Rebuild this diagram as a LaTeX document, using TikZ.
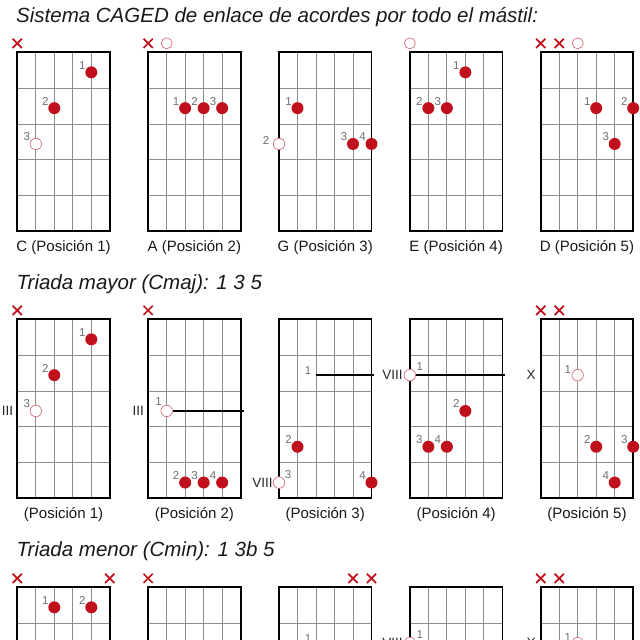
\documentclass[tikz,border=0pt]{standalone}
\usepackage{fontspec}
\setmainfont{Liberation Sans}
\usepackage{tikz}
\usetikzlibrary{shapes.misc}

\definecolor{dotred}{HTML}{C0101C}
\definecolor{ringred}{HTML}{D5707C}
\definecolor{numgray}{HTML}{6E6E6E}

\newcommand{\fingerdot}[4]{%
  \node[fdot] (#1) at (#2-1,#3-.44) {};
  \node[fnum] (#1n) at ([shift={(-9pt,7pt)}]#1.center) {#4};}
\newcommand{\ringdot}[5]{%
  \node[rdot] (#1) at (#2-1,#3-.44) {};
  \node[fnum] (#1n) at ([shift={#5}]#1.center) {#4};}

\begin{document}
\begin{tikzpicture}[x=1pt,y=-1pt,
  frame/.style={line width=1.7pt},
  wire/.style={black!45, line width=0.8pt},
  fdot/.style={circle, fill=dotred, minimum size=12pt, inner sep=0pt},
  rdot/.style={circle, draw=ringred, fill=white, line width=0.7pt, minimum size=11.5pt, inner sep=0pt},
  otop/.style={circle, draw=ringred, line width=0.7pt, minimum size=11pt, inner sep=0pt},
  mute/.style={cross out, draw=dotred, line width=1.7pt, minimum size=7.5pt, inner sep=0pt},
  fnum/.style={text=numgray, font=\fontsize{11.5}{11.5}\selectfont, inner sep=0pt},
  roman/.style={text=black!85, font=\fontsize{13.5}{13.5}\selectfont, inner sep=0pt, anchor=east},
  barre/.style={line width=1.4pt},
  heading/.style={text=black!90, font=\itshape\fontsize{20.5}{24}\selectfont, inner sep=0pt, anchor=base west},
  caption/.style={text=black!90, font=\fontsize{15}{18}\selectfont, inner sep=0pt, anchor=base},
  chord/.style 2 args={shift={({17.3pt+130.85pt*(#1-1)},{-#2pt})}, x=18.5pt, y=-35.8pt}]
\useasboundingbox (0,0) rectangle (640,640);
\clip (0,0) rectangle (640,640);

\node[heading] (head1) at (16,22.5) {Sistema CAGED de enlace de acordes por todo el mástil:};
\node[heading] (head2) at (16.5,289.3) {Triada mayor (Cmaj): 1 3 5};
\node[heading] (head3) at (16.5,556.7) {Triada menor (Cmin): 1 3b 5};

% fretboards
\foreach \row in {52.3,319.3,587.3}
  \foreach \col in {1,...,5} {
    \begin{scope}[chord={\col}{\row}]
      \foreach \s in {1,...,4} \draw[wire] (\s,0) -- (\s,5);
      \foreach \f in {1,...,4} \draw[wire] (0,\f) -- (5,\f);
      \draw[frame] (0,0) rectangle (5,5);
    \end{scope}
  }

\foreach \col/\txt in {1/C (Posición 1),2/A (Posición 2),3/G (Posición 3),4/E (Posición 4),5/D (Posición 5)} {
  \begin{scope}[chord={\col}{52.3}]
    \node[caption] (capA\col) at ([yshift=-20.5pt]2.5,5) {\txt};
  \end{scope}
}
\foreach \col in {1,...,5} {
  \begin{scope}[chord={\col}{319.3}]
    \node[caption] (capB\col) at ([yshift=-20.5pt]2.5,5) {(Posición \col)};
  \end{scope}
}

% CAGED
\begin{scope}[chord={1}{52.3}]
  \node[mute] (c1x1) at (0,-.25) {};
  \fingerdot{c1d1}{5}{1}{1}
  \fingerdot{c1d2}{3}{2}{2}
  \ringdot{c1d3}{2}{3}{3}{(-9pt,7pt)}
\end{scope}
\begin{scope}[chord={2}{52.3}]
  \node[mute] (a2x1) at (0,-.25) {};
  \node[otop] (a2o2) at (1,-.25) {};
  \fingerdot{a2d1}{3}{2}{1}
  \fingerdot{a2d2}{4}{2}{2}
  \fingerdot{a2d3}{5}{2}{3}
\end{scope}
\begin{scope}[chord={3}{52.3}]
  \fingerdot{g3d1}{2}{2}{1}
  \ringdot{g3d2}{1}{3}{2}{(-13pt,3pt)}
  \fingerdot{g3d3}{5}{3}{3}
  \fingerdot{g3d4}{6}{3}{4}
\end{scope}
\begin{scope}[chord={4}{52.3}]
  \node[otop] (e4o1) at (0,-.25) {};
  \fingerdot{e4d1}{4}{1}{1}
  \fingerdot{e4d2}{2}{2}{2}
  \fingerdot{e4d3}{3}{2}{3}
\end{scope}
\begin{scope}[chord={5}{52.3}]
  \node[mute] (d5x1) at (0,-.25) {};
  \node[mute] (d5x2) at (1,-.25) {};
  \node[otop] (d5o3) at (2,-.25) {};
  \fingerdot{d5d1}{4}{2}{1}
  \fingerdot{d5d2}{6}{2}{2}
  \fingerdot{d5d3}{5}{3}{3}
\end{scope}

% Cmaj
\begin{scope}[chord={1}{319.3}]
  \node[mute] (M1x1) at (0,-.25) {};
  \fingerdot{M1d1}{5}{1}{1}
  \fingerdot{M1d2}{3}{2}{2}
  \ringdot{M1d3}{2}{3}{3}{(-9pt,7pt)}
  \node[roman] (M1r) at ([xshift=-4pt]0,3-.44) {III};
\end{scope}
\begin{scope}[chord={2}{319.3}]
  \node[mute] (M2x1) at (0,-.25) {};
  \ringdot{M2d1}{2}{3}{1}{(-8pt,9pt)}
  \coordinate (M2b) at (5.2,3-.44);
  \draw[barre] (M2d1) -- (M2b);
  \node[roman] (M2r) at ([xshift=-4pt]0,3-.44) {III};
  \fingerdot{M2d2}{3}{5}{2}
  \fingerdot{M2d3}{4}{5}{3}
  \fingerdot{M2d4}{5}{5}{4}
\end{scope}
\begin{scope}[chord={3}{319.3}]
  \coordinate (M3a) at (2,2-.44);
  \coordinate (M3b) at (5.14,2-.44);
  \draw[barre] (M3a) -- (M3b);
  \node[fnum] (M3n) at ([shift={(-8pt,5pt)}]M3a) {1};
  \fingerdot{M3d2}{2}{4}{2}
  \ringdot{M3d3}{1}{5}{3}{(9pt,8pt)}
  \node[roman] (M3r) at (M3d3.west) {VIII};
  \fingerdot{M3d4}{6}{5}{4}
\end{scope}
\begin{scope}[chord={4}{319.3}]
  \ringdot{M4d1}{1}{2}{1}{(10pt,9pt)}
  \coordinate (M4b) at (5.14,2-.44);
  \draw[barre] (M4d1) -- (M4b);
  \node[roman] (M4r) at ([xshift=-1pt]M4d1.west) {VIII};
  \fingerdot{M4d2}{4}{3}{2}
  \fingerdot{M4d3}{2}{4}{3}
  \fingerdot{M4d4}{3}{4}{4}
\end{scope}
\begin{scope}[chord={5}{319.3}]
  \node[mute] (M5x1) at (0,-.25) {};
  \node[mute] (M5x2) at (1,-.25) {};
  \node[roman] (M5r) at ([xshift=-5pt]0,2-.44) {X};
  \ringdot{M5d1}{3}{2}{1}{(-10pt,6pt)}
  \fingerdot{M5d2}{4}{4}{2}
  \fingerdot{M5d3}{6}{4}{3}
  \fingerdot{M5d4}{5}{5}{4}
\end{scope}

% Cmin
\begin{scope}[chord={1}{587.3}]
  \node[mute] (m1x1) at (0,-.25) {};
  \node[mute] (m1x6) at (5,-.25) {};
  \fingerdot{m1d1}{3}{1}{1}
  \fingerdot{m1d2}{5}{1}{2}
\end{scope}
\begin{scope}[chord={2}{587.3}]
  \node[mute] (m2x1) at (0,-.25) {};
\end{scope}
\begin{scope}[chord={3}{587.3}]
  \node[mute] (m3x5) at (4,-.25) {};
  \node[mute] (m3x6) at (5,-.25) {};
  \coordinate (m3a) at (2,2-.44);
  \node[fnum] (m3n) at ([shift={(-8pt,5pt)}]m3a) {1};
\end{scope}
\begin{scope}[chord={4}{587.3}]
  \ringdot{m4d1}{1}{2}{1}{(10pt,9pt)}
  \node[roman] (m4r) at ([xshift=-1pt]m4d1.west) {VIII};
\end{scope}
\begin{scope}[chord={5}{587.3}]
  \node[mute] (m5x1) at (0,-.25) {};
  \node[mute] (m5x2) at (1,-.25) {};
  \node[roman] (m5r) at ([xshift=-5pt]0,2-.44) {X};
  \ringdot{m5d1}{3}{2}{1}{(-10pt,6pt)}
\end{scope}
\end{tikzpicture}
\end{document}
